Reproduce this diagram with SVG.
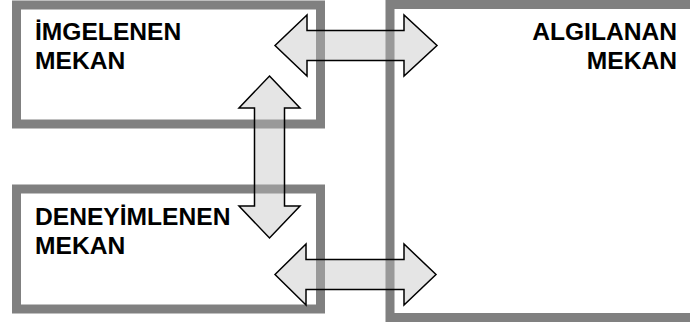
<svg xmlns="http://www.w3.org/2000/svg" width="690" height="324" viewBox="0 0 690 324">
  <style>
    .box { fill: #ffffff; stroke: #808080; stroke-width: 9; }
    .lbl { font-family: "Liberation Sans", Arial, sans-serif; font-weight: bold; font-size: 24.6px; fill: #000000; }
    .end { text-anchor: end; }
    .arrow { fill: #bebebe; fill-opacity: 0.4; stroke: #000000; stroke-width: 1.5; stroke-linejoin: miter; }
  </style>
  <rect width="690" height="324" fill="#ffffff"/>

  <g id="imgelenen-mekan">
    <rect class="box" x="16.5" y="5" width="304" height="119"/>
    <text class="lbl" x="35" y="40">İMGELENEN</text>
    <text class="lbl" x="35" y="68.5">MEKAN</text>
  </g>

  <g id="deneyimlenen-mekan">
    <rect class="box" x="16.5" y="189" width="304" height="120"/>
    <text class="lbl" x="35" y="225">DENEYİMLENEN</text>
    <text class="lbl" x="35" y="253.5">MEKAN</text>
  </g>

  <g id="algilanan-mekan">
    <rect class="box" x="390" y="4.5" width="330" height="313"/>
    <text class="lbl end" x="677" y="40">ALGILANAN</text>
    <text class="lbl end" x="677" y="68.5">MEKAN</text>
  </g>

  <g id="connectors">
    <!-- imagined <-> perceived -->
    <polygon class="arrow" points="275,45.5 307,15 307,30.5 404,30.5 404,15 437,45.5 404,76 404,60.5 307,60.5 307,76"/>
    <!-- imagined <-> experienced -->
    <polygon class="arrow" points="269.5,76 300,108 284.5,108 284.5,206 300,206 269.5,238 239,206 254.5,206 254.5,108 239,108"/>
    <!-- experienced <-> perceived -->
    <polygon class="arrow" points="275,274.5 306,244 306,259.5 404,259.5 404,244 436,274.5 404,305 404,289.5 306,289.5 306,305"/>
  </g>
</svg>
